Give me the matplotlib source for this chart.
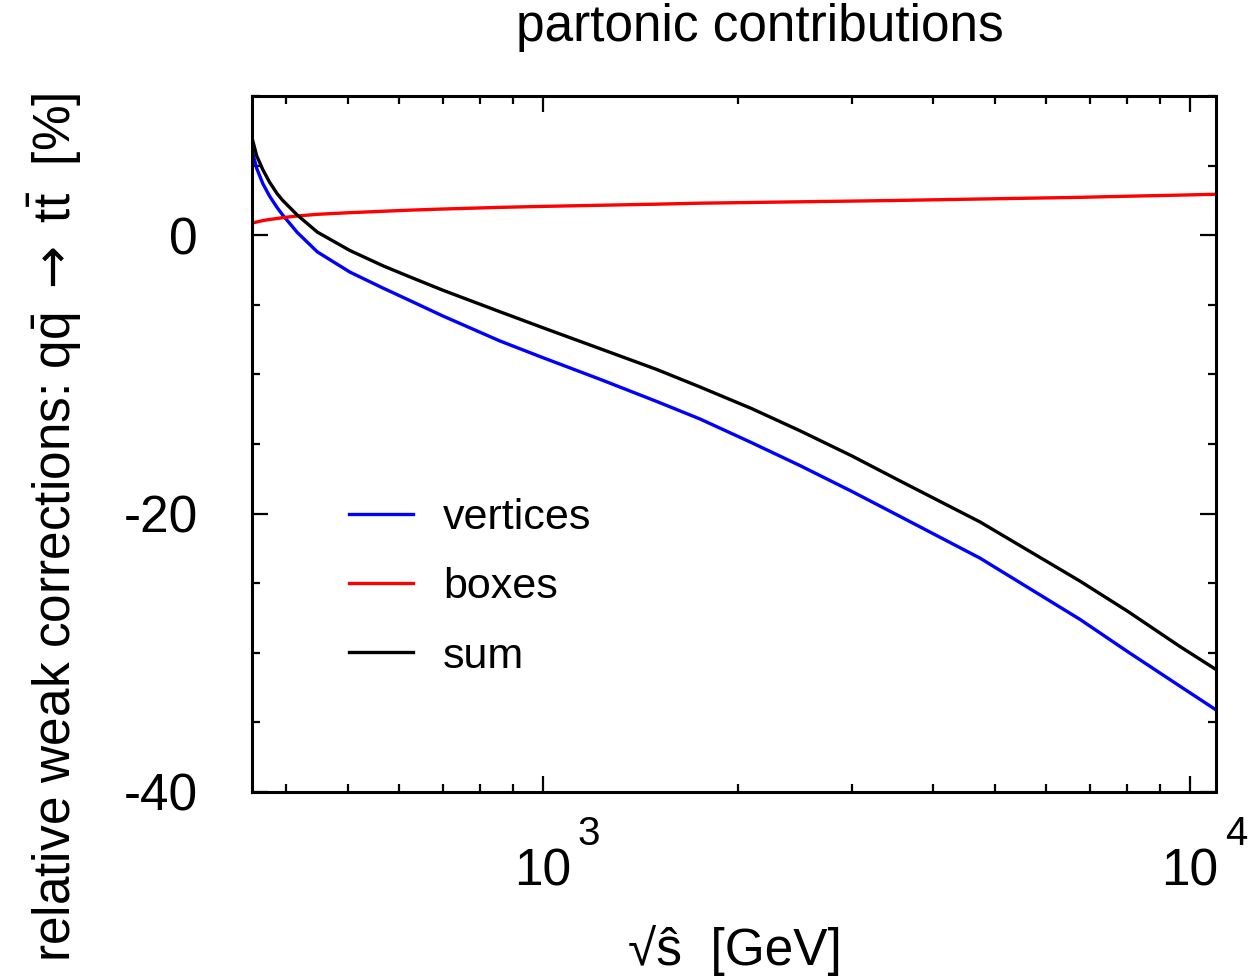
import matplotlib
matplotlib.use("Agg")
import matplotlib.pyplot as plt
from matplotlib.ticker import FixedLocator, FixedFormatter, LogLocator, NullFormatter, MultipleLocator

plt.rcParams['font.family'] = ['Liberation Sans', 'DejaVu Sans']
plt.rcParams['mathtext.fontset'] = 'custom'
plt.rcParams['mathtext.rm'] = 'Liberation Sans'
plt.rcParams['mathtext.it'] = 'Liberation Sans:italic'
plt.rcParams['mathtext.bf'] = 'Liberation Sans:bold'
plt.rcParams['mathtext.sf'] = 'DejaVu Sans'

# ---- data ----
sqrt_s = [355, 361, 369, 378, 388, 396, 417, 448, 503, 566, 623, 700, 858, 1000,
          1225, 1500, 1748, 2100, 2496, 3000, 3562, 4737, 6761, 8000, 9650, 10970]
vertices = [6.1, 4.8, 3.7, 2.8, 2.0, 1.45, 0.2, -1.2, -2.65, -3.8, -4.7, -5.8,
            -7.6, -8.8, -10.35, -11.95, -13.2, -14.9, -16.55, -18.4, -20.2,
            -23.2, -27.6, -29.9, -32.4, -34.1]
boxes = [0.86, 0.95, 1.05, 1.13, 1.2, 1.26, 1.38, 1.5, 1.62, 1.72, 1.8, 1.88,
         2.0, 2.07, 2.15, 2.23, 2.3, 2.35, 2.4, 2.45, 2.5, 2.6, 2.72, 2.8,
         2.88, 2.94]
total = [7.0, 5.7, 4.7, 3.8, 3.0, 2.5, 1.45, 0.22, -1.1, -2.2, -3.0, -3.95,
         -5.5, -6.65, -8.15, -9.65, -10.9, -12.45, -14.05, -15.85, -17.65,
         -20.6, -24.85, -27.0, -29.55, -31.2]
series_labels = ['vertices', 'boxes', 'sum']
series_colors = ['#0000ff', '#ff0000', '#000000']
xtick_vals = [1e3, 1e4]
xtick_labels = ['10', '10']
xtick_exps = ['3', '4']
ytick_vals = [-40, -20, 0]
ytick_labels = ['-40', '-20', '0']

W, H = 1253, 976
fig = plt.figure(figsize=(W / 100, H / 100), dpi=100)
ax = fig.add_axes([252 / W, 1 - 792 / H, (1216 - 252) / W, (792 - 96) / H])

for yv, lab, col in zip([vertices, boxes, total], series_labels, series_colors):
    ax.plot(sqrt_s, yv, color=col, lw=2.4, label=lab, solid_joinstyle='round')

ax.set_xscale('log')
ax.set_xlim(355, 10970)
ax.set_ylim(-40, 10)

ax.xaxis.set_major_locator(FixedLocator(xtick_vals))
ax.xaxis.set_major_formatter(FixedFormatter(xtick_labels))
ax.xaxis.set_minor_locator(LogLocator(base=10, subs=range(2, 10)))
ax.xaxis.set_minor_formatter(NullFormatter())
ax.yaxis.set_major_locator(FixedLocator(ytick_vals))
ax.yaxis.set_major_formatter(FixedFormatter(ytick_labels))
ax.yaxis.set_minor_locator(MultipleLocator(5))

for s in ax.spines.values():
    s.set_linewidth(2.2)
ax.tick_params(which='both', direction='in', top=True, right=True, width=1.6)
ax.tick_params(which='major', length=11.5)
ax.tick_params(which='minor', length=5.8)
ax.tick_params(axis='x', which='major', labelsize=37, pad=40)
ax.tick_params(axis='y', which='major', labelsize=37, pad=39)

for xv, e in zip(xtick_vals, xtick_exps):
    ax.annotate(e, xy=(xv, 0), xycoords=('data', 'axes fraction'),
                xytext=(33, -30), textcoords='offset points',
                ha='center', va='center', fontsize=29)

fig.text(760 / W, 1 - 41 / H, 'partonic contributions', ha='center',
         va='baseline', fontsize=37)
fig.text(735 / W, 1 - 965 / H, '√ŝ  [GeV]', ha='center', va='baseline',
         fontsize=37)
fig.text(55 / W, 1 - 527 / H,
         r'relative weak corrections: q$\bar{\mathrm{q}}$ $\mathsf{\rightarrow}$ t$\bar{\mathrm{t}}$  [%]',
         ha='center', va='center', rotation=90, fontsize=37)

ax.legend(loc='upper left', bbox_to_anchor=(0.1006, 0.4224), frameon=False,
          fontsize=31, handlelength=1.48, handletextpad=0.70,
          labelspacing=0.68, borderpad=0, borderaxespad=0)

fig.savefig('out.png', dpi=100)
